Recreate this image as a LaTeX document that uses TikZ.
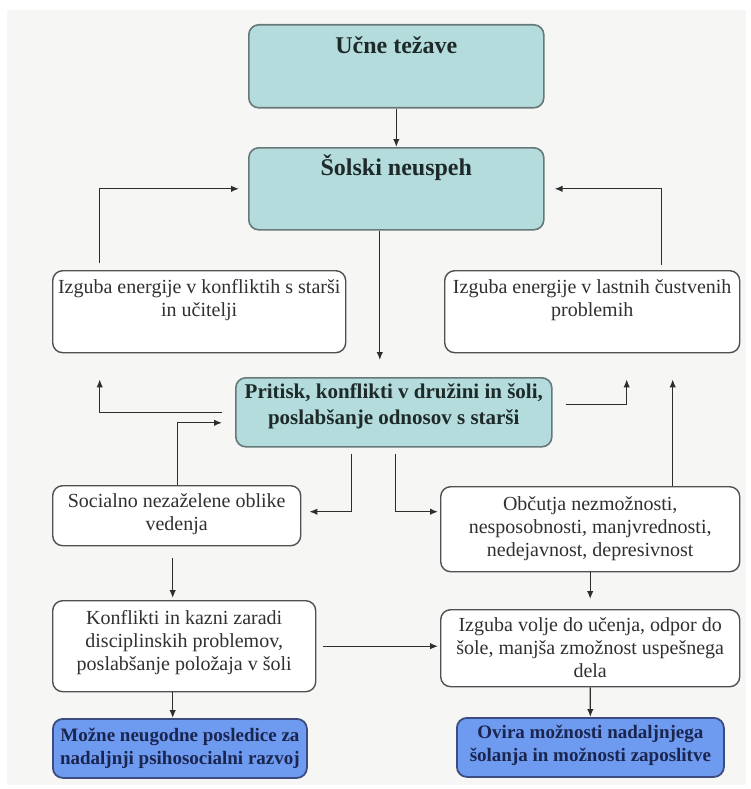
\documentclass[tikz,border=0pt]{standalone}
\usepackage{fontspec}
\setmainfont{Liberation Serif}
\usetikzlibrary{arrows.meta}

\definecolor{bgc}{HTML}{F6F7F5}
\definecolor{tealfill}{HTML}{B5DCDC}
\definecolor{tealline}{HTML}{667878}
\definecolor{tealtext}{HTML}{1E2A2A}
\definecolor{whiteline}{HTML}{505050}
\definecolor{whitetext}{HTML}{303030}
\definecolor{bluefill}{HTML}{6E9BEF}
\definecolor{blueline}{HTML}{3C4C80}
\definecolor{bluetext}{HTML}{1A2550}
\definecolor{linkc}{HTML}{2E2E2E}

% box content: width, total height, first baseline, font, text
\newcommand{\bxt}[5]{\parbox[t][#2][t]{#1}{#4\centering\rule{0pt}{#3}#5\par}}
\newcommand{\bigbold}{\fontsize{24}{28}\selectfont\bfseries}
\newcommand{\midbold}{\fontsize{21}{26}\selectfont\bfseries}
\newcommand{\smallbold}{\fontsize{19}{23}\selectfont\bfseries}
\newcommand{\plain}{\fontsize{20}{23}\selectfont}

\begin{document}
\begin{tikzpicture}[x=1pt,y=-1pt,
  tealbox/.style={draw=tealline, fill=tealfill, text=tealtext, line width=1.6pt,
    rounded corners=10pt, inner sep=0pt, anchor=north west},
  whitebox/.style={draw=whiteline, fill=white, text=whitetext, line width=1.4pt,
    rounded corners=10pt, inner sep=0pt, anchor=north west},
  bluebox/.style={draw=blueline, fill=bluefill, text=bluetext, line width=1.8pt,
    rounded corners=10pt, inner sep=0pt, anchor=north west},
  link/.style={draw=linkc, line width=1.3pt, -{Latex[length=8pt,width=6.5pt]}}]

\useasboundingbox (0,0) rectangle (751,789);
\fill[white] (0,0) rectangle (751,789);
\fill[bgc] (7,10) rectangle (746,785);

% boxes
\node[tealbox] (uc) at (248,24)
  {\bxt{295pt}{83pt}{29pt}{\bigbold}{Učne težave}};
\node[tealbox] (sn) at (248,147)
  {\bxt{295pt}{82pt}{28pt}{\bigbold}{Šolski neuspeh}};
\node[whitebox] (il) at (52,270)
  {\bxt{293pt}{82pt}{23pt}{\plain}{Izguba energije v konfliktih s starši\\in učitelji}};
\node[whitebox] (ir) at (444,270)
  {\bxt{295pt}{82pt}{23pt}{\plain}{Izguba energije v lastnih čustvenih\\problemih}};
\node[tealbox] (pr) at (235,377)
  {\bxt{316pt}{69pt}{21pt}{\midbold}{Pritisk, konflikti v družini in šoli,\\poslabšanje odnosov s starši}};
\node[whitebox] (so) at (52,485)
  {\bxt{248pt}{60pt}{22pt}{\plain}{Socialno nezaželene oblike\\vedenja}};
\node[whitebox] (ob) at (440,486)
  {\bxt{299pt}{85pt}{24pt}{\plain}{Občutja nezmožnosti,\\nesposobnosti, manjvrednosti,\\nedejavnost, depresivnost}};
\node[whitebox] (ko) at (52,600)
  {\bxt{263pt}{91pt}{24pt}{\plain}{Konflikti in kazni zaradi\\disciplinskih problemov,\\poslabšanje položaja v šoli}};
\node[whitebox] (iv) at (440,609)
  {\bxt{299pt}{77pt}{22pt}{\plain}{Izguba volje do učenja, odpor do\\šole, manjša zmožnost uspešnega\\dela}};
\node[bluebox] (mo) at (52,718)
  {\bxt{254pt}{59pt}{23pt}{\smallbold}{Možne neugodne posledice za\\nadaljnji psihosocialni razvoj}};
\node[bluebox] (ov) at (456,717)
  {\bxt{267pt}{59pt}{21pt}{\smallbold}{Ovira možnosti nadaljnjega\\šolanja in možnosti zaposlitve}};

% connectors
\draw[link] (uc) -- (sn);
\draw[link, shorten >=17pt] ([xshift=-16.5pt]sn.south) -- ([xshift=-16.5pt]sn.south |- pr.north);
\draw[link, shorten <=7pt, shorten >=9pt] ([xshift=-99.5pt]il.north) |- (sn.west);
\draw[link, shorten <=5pt, shorten >=10pt] ([xshift=69.5pt]ir.north) |- (sn.east);
\draw[link, shorten <=13pt, shorten >=26pt] (pr.west) -| ([xshift=-99.5pt]il.south);
\draw[link, shorten >=13pt] ([xshift=1pt]so.north) |- ([yshift=-10.5pt]pr.west);
\draw[link, shorten <=13pt, shorten >=26pt] ([yshift=7.5pt]pr.east) -| ([xshift=34.5pt]ir.south);
\draw[link, shorten >=26pt] ([xshift=82.5pt]ob.north) -- ([xshift=82.5pt]ob.north |- ir.south);
\draw[link, shorten <=6pt, shorten >=8pt] ([xshift=-42pt]pr.south) |- ([yshift=4pt]so.east);
\draw[link, shorten <=6pt, shorten >=2pt] ([xshift=2pt]pr.south) |- ([yshift=17.5pt]ob.west);
\draw[link, shorten <=12pt, shorten >=2pt] ([xshift=-4pt]so.south) -- ([xshift=-4pt]so.south |- ko.north);
\draw[link, shorten <=7pt, shorten >=2pt] (ko.east) -- (ko.east -| iv.west);
\draw[link] ([xshift=-11.5pt]ko.south) -- ([xshift=-11.5pt]ko.south |- mo.north);
\draw[link, shorten >=10pt] (ob.south) -- (ob.south |- iv.north);
\draw[link] (iv) -- (ov);
\end{tikzpicture}
\end{document}
